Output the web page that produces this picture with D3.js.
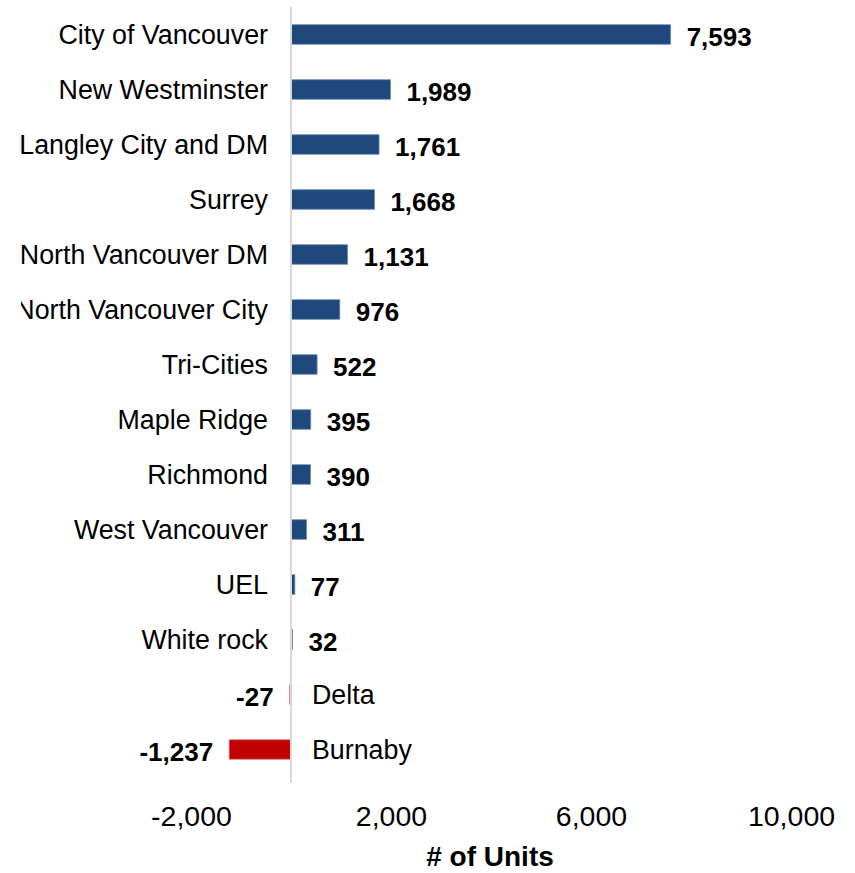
<!DOCTYPE html>
<html>
<head>
<meta charset="utf-8">
<script src="https://cdn.jsdelivr.net/npm/d3@7/dist/d3.min.js"></script>
<style>
  html, body { margin: 0; padding: 0; background: #fff; }
  svg { display: block; font-family: "Liberation Sans", Arial, sans-serif; }
</style>
</head>
<body>
<svg id="chart" width="855" height="873"></svg>
<script>
// Net change in housing units by municipality
const municipalities = [
  "City of Vancouver", "New Westminster", "Langley City and DM", "Surrey",
  "North Vancouver DM", "North Vancouver City", "Tri-Cities", "Maple Ridge",
  "Richmond", "West Vancouver", "UEL", "White rock", "Delta", "Burnaby"
];
const units = [7593, 1989, 1761, 1668, 1131, 976, 522, 395, 390, 311, 77, 32, -27, -1237];
const tickValues = [-2000, 2000, 6000, 10000];
const axisTitle = "# of Units";

const svg = d3.select("#chart");
// thousands separator with a plain hyphen for negatives
const fmt = v => d3.format(",")(v).replace("\u2212", "-");

const x = d3.scaleLinear().domain([-2000, 10000]).range([191, 791]);
const y = d3.scaleBand()
  .domain(municipalities)
  .range([7, 777])
  .paddingInner(0.645)
  .paddingOuter(0.3225);

const rows = municipalities.map((name, i) => ({ name, value: units[i] }));

// clip so long labels are cut at the left margin
svg.append("defs").append("clipPath").attr("id", "plotClip")
  .append("rect").attr("x", 21).attr("y", 0).attr("width", 834).attr("height", 873);

const g = svg.append("g").attr("clip-path", "url(#plotClip)");

// bars
g.selectAll("rect.bar").data(rows).join("rect")
  .attr("class", "bar")
  .attr("x", d => x(Math.min(0, d.value)))
  .attr("width", d => Math.abs(x(d.value) - x(0)))
  .attr("y", d => y(d.name))
  .attr("height", y.bandwidth())
  .attr("fill", d => d.value < 0 ? "#c00000" : "#1f497d")
  .attr("stroke", d => d.value < 0 ? "#e88080" : "#6d8bb0")
  .attr("stroke-width", 0.8);

// zero baseline
g.append("line")
  .attr("x1", x(0)).attr("x2", x(0))
  .attr("y1", 7).attr("y2", 783)
  .attr("stroke", "#d9d9d9").attr("stroke-width", 2);

// category labels: left of the baseline for gains, right of it for losses
g.selectAll("text.cat").data(rows).join("text")
  .attr("class", "cat")
  .attr("x", d => d.value < 0 ? x(0) + 21 : x(0) - 23)
  .attr("y", d => y(d.name) + y.bandwidth() / 2 + 9)
  .attr("text-anchor", d => d.value < 0 ? "start" : "end")
  .attr("font-size", 26.8)
  .attr("fill", "#000")
  .text(d => d.name);

// value labels at the bar ends
g.selectAll("text.val").data(rows).join("text")
  .attr("class", "val")
  .attr("x", d => d.value < 0 ? x(d.value) - 16 : x(d.value) + 16)
  .attr("y", d => y(d.name) + y.bandwidth() / 2 + 11)
  .attr("text-anchor", d => d.value < 0 ? "end" : "start")
  .attr("font-size", 26)
  .attr("font-weight", "bold")
  .attr("fill", "#000")
  .text(d => fmt(d.value));

// x axis (labels only)
const axis = svg.append("g")
  .attr("transform", "translate(0,790)")
  .call(d3.axisBottom(x).tickValues(tickValues).tickFormat(fmt).tickSize(0).tickPadding(0));
axis.select(".domain").remove();
axis.selectAll("text")
  .attr("font-family", "Liberation Sans, Arial, sans-serif")
  .attr("font-size", 28.5)
  .attr("fill", "#000")
  .attr("dy", "1.26em");

svg.append("text")
  .attr("x", 490).attr("y", 866)
  .attr("text-anchor", "middle")
  .attr("font-size", 28)
  .attr("font-weight", "bold")
  .attr("fill", "#000")
  .text(axisTitle);
</script>
</body>
</html>
